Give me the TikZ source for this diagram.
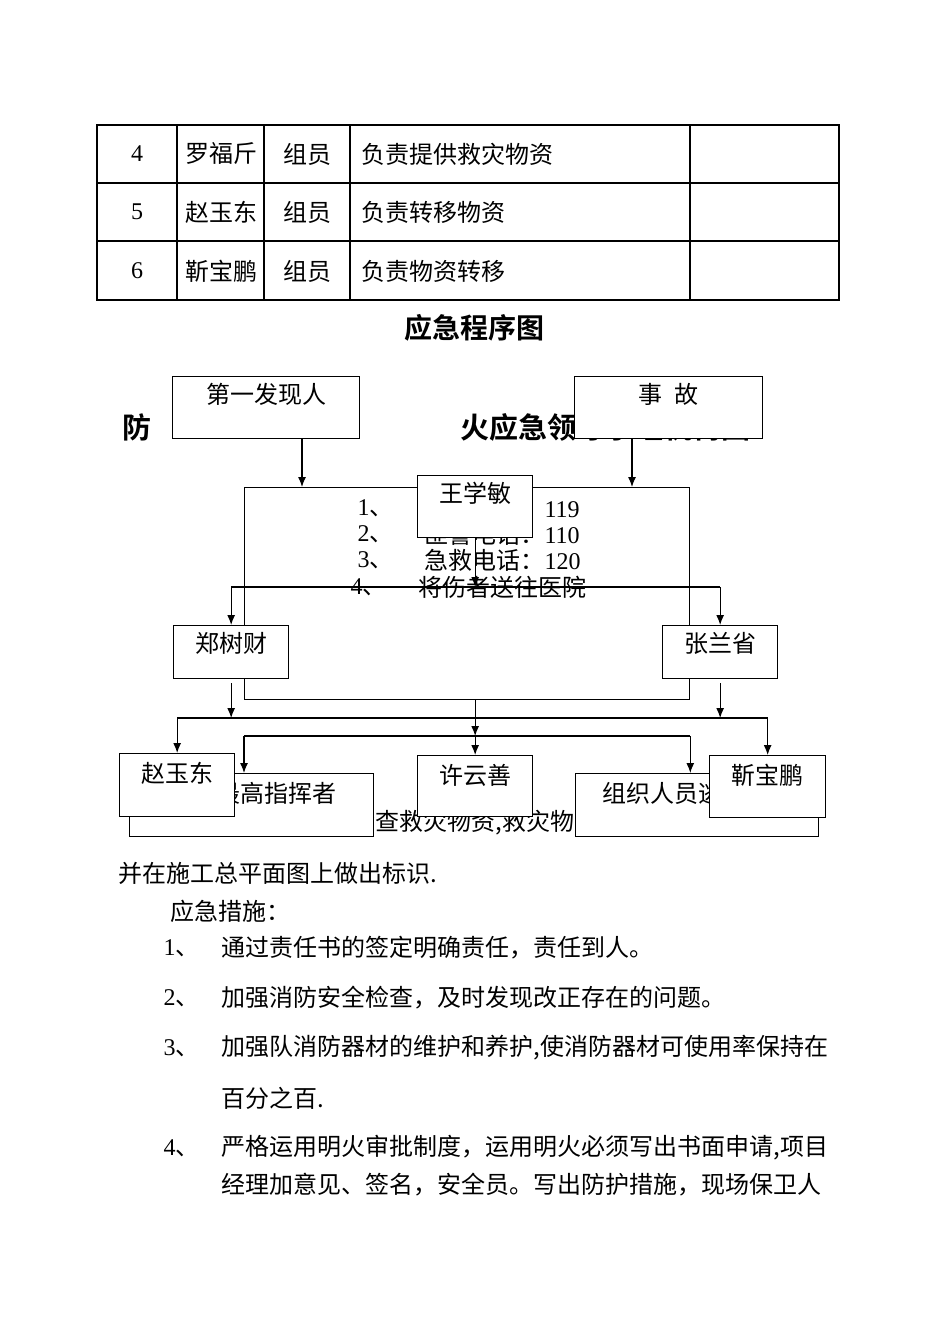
\documentclass[tikz,border=0pt]{standalone}
\usepackage{fontspec}
\setmainfont{Liberation Serif}
\newfontfamily\cjkfont{Noto Sans CJK SC}
\IfFontExistsTF{Noto Sans CJK SC Bold}
  {\newfontfamily\cjkbold{Noto Sans CJK SC Bold}}
  {\newfontfamily\cjkbold[FakeBold=3]{Noto Sans CJK SC}}
\usetikzlibrary{positioning}
\usetikzlibrary{calc}
\usetikzlibrary{arrows.meta}

\begin{document}
\begin{tikzpicture}
 [ x=1pt, y=-1pt
 , line width=1.2pt
 , zh/.style={font=\cjkfont\fontsize{24pt}{26pt}\selectfont, inner sep=0pt}
 , latin/.style={font=\fontsize{24pt}{26pt}\selectfont, inner sep=0pt}
 , heading/.style={font=\cjkbold\fontsize{28pt}{30pt}\selectfont, inner sep=0pt}
 , banner/.style={font=\cjkbold\fontsize{29pt}{31pt}\selectfont, inner sep=0pt, anchor=west}
 , box/.style={draw, fill=white, line width=1.3pt, inner sep=0pt, anchor=north west}
 , link/.style={-{Latex[length=10pt,width=8pt]}}
 ]
  \useasboundingbox (0,0) rectangle (950,1344);

  % member table
  \draw (97,125) rectangle (839,300);
  \foreach \y in {183,241} \draw (97,\y) -- (839,\y);
  \foreach \x in {177,264,350,690} \draw (\x,125) -- (\x,300);
  \foreach \n/\who/\duty/\y in {4/罗福斤/负责提供救灾物资/154,
                               5/赵玉东/负责转移物资/212,
                               6/靳宝鹏/负责物资转移/271}
  {
    \node [latin] (no\n) at (137,\y) {\n};
    \node [zh] (name\n) at (221,\y) {\who};
    \node [zh] (role\n) at (307,\y) {组员};
    \node [zh, anchor=west] (duty\n) at (361,\y) {\duty};
  }

  \node [heading] (title) at (474,328) {应急程序图};
  \node [banner] (fang) at (122,427) {防};
  \node [banner] (group) at (460,427) {火应急领导小组机构图};

  % phone list
  \node [box, fill=none, minimum width=445pt, minimum height=212pt] (phones) at (244,487) {};
  \node [zh, anchor=west] (no1) at (357,508) {{\rmfamily 1}、};
  \node [zh, anchor=west] (fire) at (424,508) {火警电话：{\rmfamily 119}};
  \node [zh, anchor=west] (no2) at (357,534) {{\rmfamily 2}、};
  \node [zh, anchor=west] (police) at (424,534) {匪警电话：{\rmfamily 110}};
  \node [zh, anchor=west] (no3) at (357,560) {{\rmfamily 3}、};
  \node [zh, anchor=west] (aid) at (424,560) {急救电话：{\rmfamily 120}};
  \node [zh, anchor=west] (no4) at (350,587) {{\rmfamily 4}、};
  \node [zh, anchor=west] (hospital) at (418,587) {将伤者送往医院};

  \node [box, minimum width=187pt, minimum height=62pt] (finder) at (172,376) {};
  \node [zh] (findertext) at ([yshift=-18pt]finder.north) {第一发现人};
  \node [box, minimum width=188pt, minimum height=62pt] (accident) at (574,376) {};
  \node [zh] (accidenttext) at ([yshift=-18pt]accident.north) {事\hspace{12pt}故};
  \node [box, minimum width=115pt, minimum height=62pt] (wang) at (417,475) {};
  \node [zh] (wangtext) at ([yshift=-18pt]wang.north) {王学敏};

  \coordinate (finderin) at (302,487);
  \coordinate (accidentin) at (632,487);
  \draw [link] (finder.south -| finderin) -- (finderin);
  \draw [link] (accident.south -| accidentin) -- (accidentin);

  \node [box, minimum width=115pt, minimum height=53pt] (zheng) at (173,625) {};
  \node [zh] (zhengtext) at ([yshift=-18pt]zheng.north) {郑树财};
  \node [box, minimum width=115pt, minimum height=53pt] (zhang) at (662,625) {};
  \node [zh] (zhangtext) at ([yshift=-18pt]zhang.north) {张兰省};

  \coordinate (busa) at (0,587);
  \coordinate (busb) at (0,718);
  \coordinate (busc) at (0,736);

  \draw [link] (wang.south) -- (wang.south |- busa);
  \draw (zheng.north |- busa) -- (zhang.north |- busa);
  \draw [link] (zheng.north |- busa) -- (zheng.north);
  \draw [link] (zhang.north |- busa) -- (zhang.north);

  % lower row
  \node [zh, anchor=west] (check) at (351,823) {检查救灾物资,救灾物资};
  \node [box, minimum width=244pt, minimum height=63pt] (chief) at (129,773) {};
  \node [zh, anchor=west] (chieftext) at (216,793) {最高指挥者};
  \node [box, minimum width=243pt, minimum height=63pt] (evac) at (575,773) {};
  \node [zh, anchor=west] (evactext) at (602,793) {组织人员逃生};
  \node [box, minimum width=115pt, minimum height=63pt] (zhao) at (119,753) {};
  \node [zh] (zhaotext) at ([yshift=-20pt]zhao.north) {赵玉东};
  \node [box, minimum width=115pt, minimum height=61pt] (xu) at (417,755) {};
  \node [zh] (xutext) at ([yshift=-20pt]xu.north) {许云善};
  \node [box, minimum width=116pt, minimum height=62pt] (jin) at (709,755) {};
  \node [zh] (jintext) at ([yshift=-20pt]jin.north) {靳宝鹏};

  \draw [link, shorten <=4pt] (zheng.south) -- (zheng.south |- busb);
  \draw [link, shorten <=4pt] (zhang.south) -- (zhang.south |- busb);
  \draw (zhao.north |- busb) -- (jin.north |- busb);
  \draw [link] (zhao.north |- busb) -- (zhao.north);
  \draw [link] (jin.north |- busb) -- (jin.north);

  \draw (phones.south west |- busc) -- (phones.south east |- busc);
  \draw [link] (phones.south west |- busc) -- (phones.south west |- chief.north);
  \draw [link] (phones.south east |- busc) -- (phones.south east |- evac.north);
  \draw [link] (xu.north |- phones.south) -- (xu.north |- busc);
  \draw [link] (xu.north |- busc) -- (xu.north);

  % text below the chart
  \node [zh, anchor=west] (mark) at (118,873) {并在施工总平面图上做出标识.};
  \node [zh, anchor=west] (measures) at (170,911) {应急措施：};
  \node [zh, anchor=west] (m1) at (163,948) {{\rmfamily 1}、};
  \node [zh, anchor=west] (m1text) at (221,948) {通过责任书的签定明确责任，责任到人。};
  \node [zh, anchor=west] (m2) at (163,998) {{\rmfamily 2}、};
  \node [zh, anchor=west] (m2text) at (221,998) {加强消防安全检查，及时发现改正存在的问题。};
  \node [zh, anchor=west] (m3) at (163,1048) {{\rmfamily 3}、};
  \node [zh, anchor=west] (m3text) at (221,1048) {加强队消防器材的维护和养护,使消防器材可使用率保持在};
  \node [zh, anchor=west] (m3more) at (221,1098) {百分之百.};
  \node [zh, anchor=west] (m4) at (163,1148) {{\rmfamily 4}、};
  \node [zh, anchor=west] (m4text) at (221,1148) {严格运用明火审批制度，运用明火必须写出书面申请,项目};
  \node [zh, anchor=west] (m4more) at (221,1185) {经理加意见、签名，安全员。写出防护措施，现场保卫人};
\end{tikzpicture}
\end{document}
